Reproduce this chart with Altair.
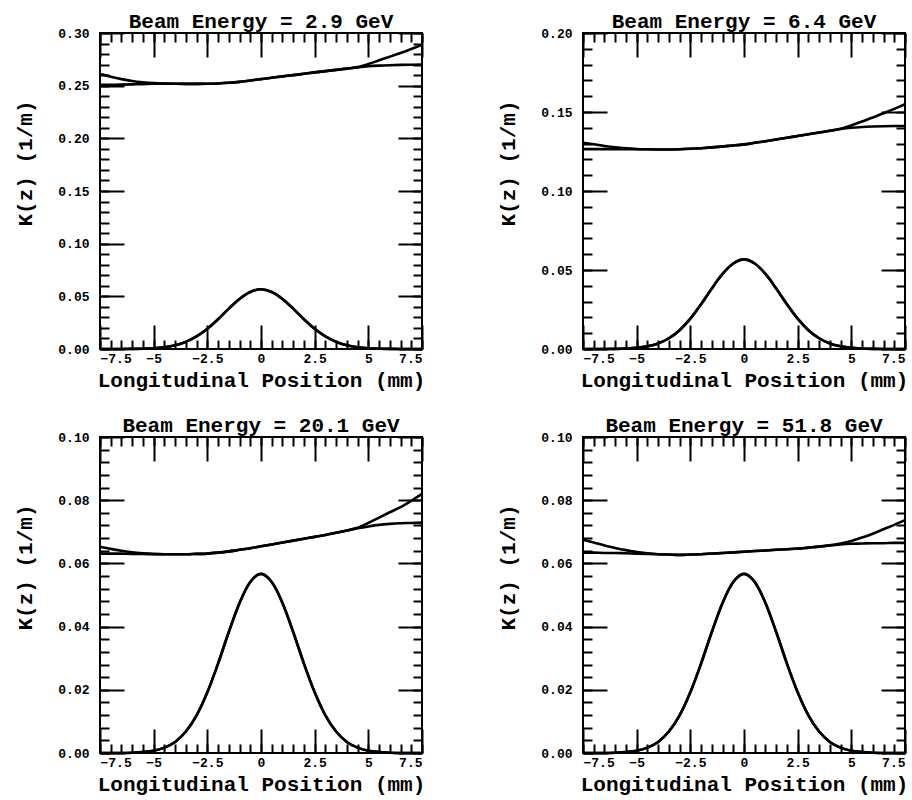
import altair as alt
import pandas as pd

# ---------------- data ----------------
x_pos = [-7.5, -7.0, -6.5, -6.0, -5.5, -5.0, -4.5, -4.0, -3.5, -3.0, -2.5,
         -2.0, -1.5, -1.0, -0.5, 0.0, 0.5, 1.0, 1.5, 2.0, 2.5, 3.0, 3.5,
         4.0, 4.5, 5.0, 5.5, 6.0, 6.5, 7.0, 7.5]

# longitudinal bunch profile (same in every panel)
bunch_profile = [0.0, 0.0, 0.0, 0.0001, 0.0003, 0.0007, 0.0017, 0.0035, 0.0068,
                 0.0119, 0.0192, 0.0283, 0.0383, 0.0475, 0.0541, 0.0567, 0.0541,
                 0.0475, 0.0383, 0.0283, 0.0192, 0.0119, 0.0068, 0.0035, 0.0017,
                 0.0007, 0.0003, 0.0001, 0.0, 0.0, 0.0]

# 2.9 GeV
k_upper_29 = [0.2610, 0.2585, 0.2562, 0.2544, 0.2532, 0.2524, 0.2520, 0.2518, 0.2517,
              0.2517, 0.2518, 0.2521, 0.2527, 0.2536, 0.2549, 0.2562, 0.2575, 0.2588,
              0.2600, 0.2613, 0.2626, 0.2638, 0.2650, 0.2662, 0.2676, 0.2705, 0.2741,
              0.2775, 0.2810, 0.2848, 0.2887]
k_lower_29 = [0.2508, 0.2509, 0.2510, 0.2512, 0.2515, 0.2518, 0.2519, 0.2518, 0.2517,
              0.2517, 0.2518, 0.2521, 0.2527, 0.2536, 0.2549, 0.2562, 0.2575, 0.2588,
              0.2600, 0.2613, 0.2626, 0.2638, 0.2650, 0.2662, 0.2674, 0.2684, 0.2690,
              0.2694, 0.2697, 0.2699, 0.2701]
# 6.4 GeV
k_upper_64 = [0.1306, 0.1296, 0.1285, 0.1276, 0.1270, 0.1266, 0.1264, 0.1263, 0.1263,
              0.1264, 0.1267, 0.1271, 0.1276, 0.1282, 0.1288, 0.1295, 0.1305, 0.1315,
              0.1326, 0.1337, 0.1348, 0.1359, 0.1370, 0.1381, 0.1394, 0.1415, 0.1440,
              0.1465, 0.1492, 0.1520, 0.1549]
k_lower_64 = [0.1265, 0.1265, 0.1265, 0.1265, 0.1265, 0.1264, 0.1264, 0.1263, 0.1263,
              0.1264, 0.1267, 0.1271, 0.1276, 0.1282, 0.1288, 0.1295, 0.1305, 0.1315,
              0.1326, 0.1337, 0.1348, 0.1359, 0.1370, 0.1381, 0.1392, 0.1400, 0.1405,
              0.1408, 0.1410, 0.1411, 0.1411]
# 20.1 GeV
k_upper_201 = [0.0653, 0.0646, 0.0640, 0.0635, 0.0632, 0.0630, 0.0629, 0.0629, 0.0629,
               0.0630, 0.0631, 0.0634, 0.0638, 0.0643, 0.0648, 0.0654, 0.0660, 0.0666,
               0.0672, 0.0678, 0.0684, 0.0690, 0.0697, 0.0704, 0.0713, 0.0728, 0.0745,
               0.0762, 0.0778, 0.0798, 0.0820]
k_lower_201 = [0.0631, 0.0631, 0.0631, 0.0630, 0.0630, 0.0629, 0.0629, 0.0629, 0.0629,
               0.0630, 0.0631, 0.0634, 0.0638, 0.0643, 0.0648, 0.0654, 0.0660, 0.0666,
               0.0672, 0.0678, 0.0684, 0.0690, 0.0697, 0.0704, 0.0711, 0.0717, 0.0722,
               0.0725, 0.0727, 0.0728, 0.0729]
# 51.8 GeV
k_upper_518 = [0.0675, 0.0666, 0.0657, 0.0649, 0.0642, 0.0636, 0.0632, 0.0629, 0.0628,
               0.0627, 0.0628, 0.0629, 0.0631, 0.0633, 0.0635, 0.0637, 0.0639, 0.0641,
               0.0643, 0.0645, 0.0647, 0.0650, 0.0653, 0.0657, 0.0663, 0.0671, 0.0682,
               0.0694, 0.0708, 0.0722, 0.0737]
k_lower_518 = [0.0634, 0.0634, 0.0633, 0.0633, 0.0632, 0.0631, 0.0630, 0.0629, 0.0628,
               0.0627, 0.0628, 0.0629, 0.0631, 0.0633, 0.0635, 0.0637, 0.0639, 0.0641,
               0.0643, 0.0645, 0.0647, 0.0650, 0.0653, 0.0657, 0.0660, 0.0662, 0.0663,
               0.0664, 0.0664, 0.0665, 0.0665]

panel_titles = ["Beam Energy = 2.9 GeV", "Beam Energy = 6.4 GeV",
                "Beam Energy = 20.1 GeV", "Beam Energy = 51.8 GeV"]
uppers = [k_upper_29, k_upper_64, k_upper_201, k_upper_518]
lowers = [k_lower_29, k_lower_64, k_lower_201, k_lower_518]
y_max = [0.30, 0.20, 0.10, 0.10]
y_major_ticks = [[0.0, 0.05, 0.10, 0.15, 0.20, 0.25, 0.30],
                 [0.0, 0.05, 0.10, 0.15, 0.20],
                 [0.0, 0.02, 0.04, 0.06, 0.08, 0.10],
                 [0.0, 0.02, 0.04, 0.06, 0.08, 0.10]]
y_minor_step = [0.01, 0.01, 0.004, 0.004]
x_major_ticks = [-7.5, -5.0, -2.5, 0.0, 2.5, 5.0, 7.5]
x_minor_ticks = [-7.5 + 0.5 * i for i in range(31)]

# ---------------- styling ----------------
FONT = "Liberation Mono"
MAJ, MIN = 24, 9
W, H = 322, 316


def axis(orient, values, size, labels=False, title=None, fmt=None, **kw):
    params = dict(orient=orient, values=values, tickSize=size, offset=-size,
                  domain=False, grid=False, ticks=True, tickWidth=2,
                  tickColor="black", labels=labels)
    if labels:
        params.update(labelFont=FONT, labelFontSize=13, labelFontWeight="bold",
                      labelColor="black", format=fmt)
    if title is not None:
        params.update(title=title, titleFont=FONT, titleFontSize=21,
                      titleFontWeight="bold", titleColor="black")
    params.update(kw)
    return alt.Axis(**params)


def panel(i):
    df = pd.DataFrame({"x": x_pos, "profile": bunch_profile,
                       "upper": uppers[i], "lower": lowers[i]})
    xs = alt.Scale(domain=[-7.5, 7.5], nice=False, zero=False)
    ys = alt.Scale(domain=[0, y_max[i]], nice=False)
    n_minor = int(round(y_max[i] / y_minor_step[i]))
    y_minor = [y_minor_step[i] * k for k in range(n_minor + 1)]
    style = dict(color="black", strokeWidth=2.6, interpolate="monotone")
    base = alt.Chart(df)

    ax_b = axis("bottom", x_major_ticks, MAJ, labels=True, fmt=".1~f",
                title="Longitudinal Position (mm)", labelPadding=3, titlePadding=4)
    ax_l = axis("left", y_major_ticks[i], MAJ, labels=True, fmt=".2f",
                title="K(z) (1/m)", labelPadding=11, titlePadding=22, titleY=130)

    l1 = base.mark_line(**style).encode(
        x=alt.X("x:Q", scale=xs, axis=ax_b),
        y=alt.Y("profile:Q", scale=ys, axis=ax_l))
    l2 = base.mark_line(**style).encode(
        x=alt.X("x:Q", scale=xs, title=None, axis=axis("bottom", x_minor_ticks, MIN)),
        y=alt.Y("upper:Q", scale=ys, title=None, axis=axis("left", y_minor, MIN)))
    l3 = base.mark_line(**style).encode(
        x=alt.X("x:Q", scale=xs, title=None, axis=axis("top", x_major_ticks, MAJ)),
        y=alt.Y("lower:Q", scale=ys, title=None, axis=axis("right", y_major_ticks[i], MAJ)))
    l4 = base.mark_line(**style).encode(
        x=alt.X("x:Q", scale=xs, title=None, axis=axis("top", x_minor_ticks, MIN)),
        y=alt.Y("profile:Q", scale=ys, title=None, axis=axis("right", y_minor, MIN)))

    return alt.layer(l1, l2, l3, l4).resolve_axis(
        x="independent", y="independent").properties(
        width=W, height=H,
        title=alt.TitleParams(panel_titles[i], font=FONT, fontSize=21,
                              fontWeight="bold", color="black", anchor="middle",
                              baseline="alphabetic", offset=-22))


row1 = alt.hconcat(panel(0), panel(1), spacing=67)
row2 = alt.hconcat(panel(2), panel(3), spacing=67)
chart = alt.vconcat(row1, row2, spacing=23).properties(
    padding={"left": 13, "top": 10, "right": 0, "bottom": 0},
    background="white",
).configure_view(stroke="black", strokeWidth=2)

chart.save("out.html", embed_options={"renderer": "svg", "actions": False})
